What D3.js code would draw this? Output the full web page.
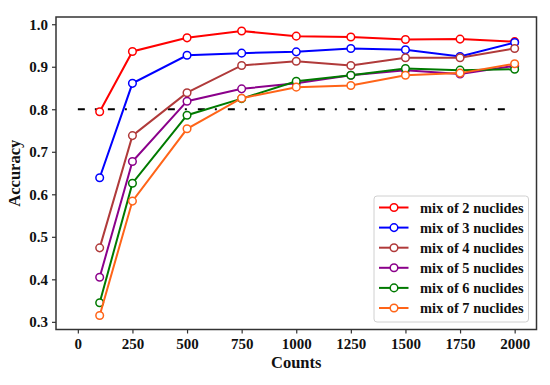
<!DOCTYPE html>
<html>
<head>
<meta charset="utf-8">
<script src="https://cdn.jsdelivr.net/npm/d3@7"></script>
<style>
  html, body { margin: 0; padding: 0; background: #fff; }
  svg text { font-family: "Liberation Serif", "Times New Roman", serif; font-weight: bold; fill: #111; }
</style>
</head>
<body>
<svg id="chart" width="550" height="385"></svg>
<script>
const counts = [100, 250, 500, 750, 1000, 1250, 1500, 1750, 2000];
const mix2 = [0.794, 0.936, 0.968, 0.984, 0.972, 0.970, 0.964, 0.965, 0.959];
const mix3 = [0.639, 0.861, 0.927, 0.932, 0.935, 0.943, 0.940, 0.924, 0.957];
const mix4 = [0.474, 0.738, 0.839, 0.903, 0.913, 0.903, 0.921, 0.921, 0.943];
const mix5 = [0.405, 0.677, 0.819, 0.848, 0.861, 0.880, 0.892, 0.883, 0.902];
const mix6 = [0.345, 0.626, 0.786, 0.825, 0.866, 0.880, 0.896, 0.892, 0.894];
const mix7 = [0.315, 0.584, 0.754, 0.826, 0.852, 0.856, 0.880, 0.885, 0.907];
const seriesNames = ["mix of 2 nuclides", "mix of 3 nuclides", "mix of 4 nuclides",
                     "mix of 5 nuclides", "mix of 6 nuclides", "mix of 7 nuclides"];
const seriesColors = ["#ff0000", "#0000ff", "#b03a3a", "#8b008b", "#007a00", "#ff6418"];
const xTicks = [0, 250, 500, 750, 1000, 1250, 1500, 1750, 2000];
const yTicks = [0.3, 0.4, 0.5, 0.6, 0.7, 0.8, 0.9, 1.0];
const threshold = 0.8;
const thresholdRange = [0, 2000];

const allSeries = [mix2, mix3, mix4, mix5, mix6, mix7];

const svg = d3.select("#chart");
const m = { left: 56, top: 17, right: 536.5, bottom: 329.5 };

const x = d3.scaleLinear().domain([-100, 2100]).range([m.left, m.right]);
const y = d3.scaleLinear().domain([0.282, 1.017]).range([m.bottom, m.top]);

// threshold line
svg.append("line")
  .attr("x1", x(thresholdRange[0])).attr("x2", x(thresholdRange[1]))
  .attr("y1", y(threshold)).attr("y2", y(threshold))
  .attr("stroke", "#000").attr("stroke-width", 2.2)
  .attr("stroke-dasharray", "7,10,2,11");

// series
const line = d3.line().x((d, i) => x(counts[i])).y(d => y(d));
allSeries.forEach((vals, si) => {
  const g = svg.append("g");
  g.append("path").datum(vals)
    .attr("d", line)
    .attr("fill", "none")
    .attr("stroke", seriesColors[si])
    .attr("stroke-width", 2);
  g.selectAll("circle").data(vals).join("circle")
    .attr("cx", (d, i) => x(counts[i]))
    .attr("cy", d => y(d))
    .attr("r", 3.8)
    .attr("fill", "#fff")
    .attr("stroke", seriesColors[si])
    .attr("stroke-width", 1.5);
});

// axes
const xAxis = svg.append("g").attr("transform", `translate(0,${m.bottom})`)
  .call(d3.axisBottom(x).tickValues(xTicks).tickSize(4).tickPadding(5).tickFormat(d3.format("d")));
const yAxis = svg.append("g").attr("transform", `translate(${m.left},0)`)
  .call(d3.axisLeft(y).tickValues(yTicks).tickSize(4).tickPadding(4).tickFormat(d3.format(".1f")));
[xAxis, yAxis].forEach(a => {
  a.select(".domain").remove();
  a.selectAll(".tick line").attr("stroke", "#333").attr("stroke-width", 1.2);
  a.selectAll(".tick text").style("font-size", "15px").style("font-family", "Liberation Serif, serif").style("font-weight", "bold").attr("fill", "#111");
});

// frame
svg.append("rect")
  .attr("x", m.left).attr("y", m.top)
  .attr("width", m.right - m.left).attr("height", m.bottom - m.top)
  .attr("fill", "none").attr("stroke", "#333").attr("stroke-width", 1.5);

// axis labels
svg.append("text").attr("x", (m.left + m.right) / 2).attr("y", 368)
  .attr("text-anchor", "middle").style("font-size", "16.5px").text("Counts");
svg.append("text")
  .attr("transform", `translate(20,${(m.top + m.bottom) / 2}) rotate(-90)`)
  .attr("text-anchor", "middle").style("font-size", "16.5px").text("Accuracy");

// legend
const lg = svg.append("g");
lg.append("rect").attr("x", 374).attr("y", 196).attr("width", 154.5).attr("height", 126)
  .attr("rx", 3).attr("fill", "#fff").attr("fill-opacity", 0.85)
  .attr("stroke", "#d0d0d0").attr("stroke-width", 1);
seriesNames.forEach((name, i) => {
  const yy = 207.5 + i * 20.1;
  lg.append("line").attr("x1", 379).attr("x2", 408.5).attr("y1", yy).attr("y2", yy)
    .attr("stroke", seriesColors[i]).attr("stroke-width", 2);
  lg.append("circle").attr("cx", 394).attr("cy", yy).attr("r", 3.8)
    .attr("fill", "#fff").attr("stroke", seriesColors[i]).attr("stroke-width", 1.5);
  lg.append("text").attr("x", 420).attr("y", yy + 5)
    .style("font-size", "14.4px").text(name);
});
</script>
</body>
</html>
